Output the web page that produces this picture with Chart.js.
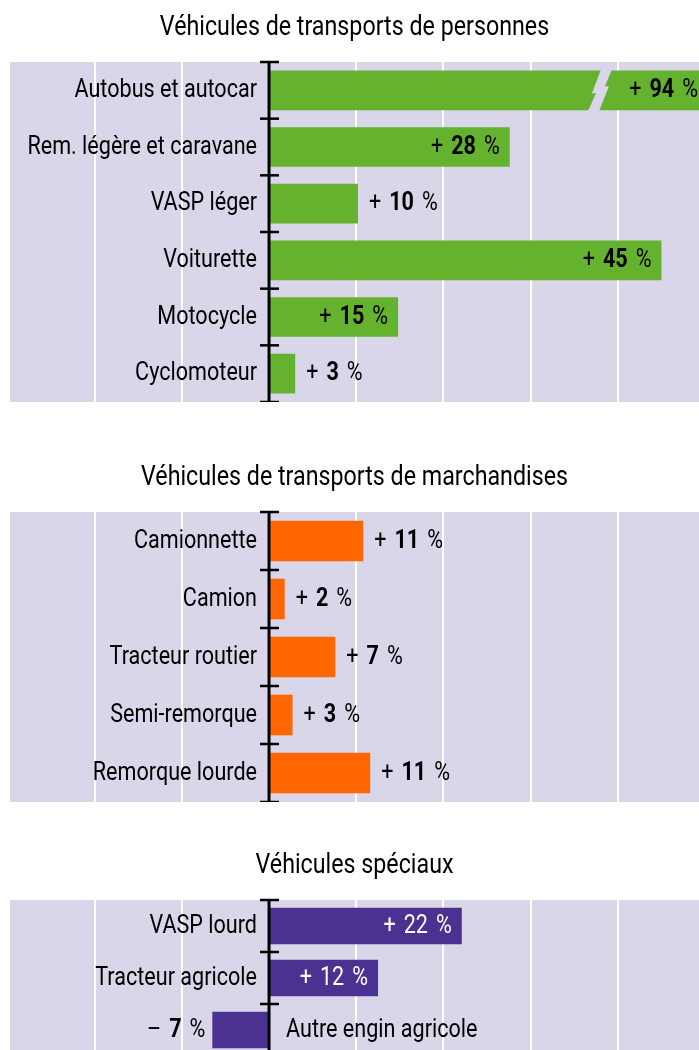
<!DOCTYPE html>
<html>
<head>
<meta charset="utf-8">
<script src="https://cdn.jsdelivr.net/npm/chart.js@4"></script>
<style>
  html, body { margin: 0; padding: 0; background: #fff; overflow: hidden; }
  body { width: 699px; height: 1050px; position: relative; }
  .panel { position: absolute; left: 0; width: 699px; }
</style>
</head>
<body>
<div class="panel" style="top:0;height:402px"><canvas id="c1"></canvas></div>
<div class="panel" style="top:450px;height:352px"><canvas id="c2"></canvas></div>
<div class="panel" style="top:838px;height:218px"><canvas id="c3"></canvas></div>
<script>
const FONT = 'Roboto, "Liberation Sans", sans-serif';
const SQUEEZE = 0.83; // the original uses a condensed face

const personTitle = 'Véhicules de transports de personnes';
const personCats = ['Autobus et autocar', 'Rem. légère et caravane', 'VASP léger', 'Voiturette', 'Motocycle', 'Cyclomoteur'];
const personValues = [94, 27.6, 10.2, 45, 14.8, 3];
const personText = ['94', '28', '10', '45', '15', '3'];

const goodsTitle = 'Véhicules de transports de marchandises';
const goodsCats = ['Camionnette', 'Camion', 'Tracteur routier', 'Semi-remorque', 'Remorque lourde'];
const goodsValues = [10.8, 1.8, 7.6, 2.7, 11.6];
const goodsText = ['11', '2', '7', '3', '11'];

const specialTitle = 'Véhicules spéciaux';
const specialCats = ['VASP lourd', 'Tracteur agricole', 'Autre engin agricole'];
const specialValues = [22.1, 12.5, -6.5];
const specialText = ['22', '12', '7'];

const xMin = -29.7, xMax = 49.3, xStep = 10;
const BG = '#d9d6e9';

function textWidth(ctx, s, font) {
  ctx.font = font;
  return ctx.measureText(s).width * SQUEEZE;
}

// draws squeezed text, x is the left edge
function drawText(ctx, s, x, y, font, color) {
  ctx.save();
  ctx.font = font;
  ctx.fillStyle = color;
  ctx.textAlign = 'left';
  ctx.textBaseline = 'middle';
  ctx.translate(x, y);
  ctx.scale(SQUEEZE, 1);
  ctx.fillText(s, 0, 0);
  ctx.restore();
}

// panel background, title, zero axis with ticks, break mark, labels
const panelPlugin = {
  id: 'panel',
  beforeDraw(chart) {
    const { ctx, chartArea: a } = chart;
    const opts = chart.options.plugins.panel;
    ctx.save();
    ctx.fillStyle = BG;
    ctx.fillRect(a.left, a.top, a.right - a.left, a.bottom - a.top);
    ctx.restore();
    const tf = '28px ' + FONT;
    const tw = textWidth(ctx, opts.title, tf);
    drawText(ctx, opts.title, (a.left + a.right) / 2 - tw / 2, a.top - 34, tf, '#000');
  },
  afterDatasetsDraw(chart) {
    const { ctx, chartArea: a, scales: { x } } = chart;
    const opts = chart.options.plugins.panel;
    const meta = chart.getDatasetMeta(0);
    const x0 = x.getPixelForValue(0);
    ctx.save();

    // broken bar mark
    if (opts.breakAt != null) {
      meta.data.forEach((bar, i) => {
        if (chart.data.datasets[0].data[i] <= xMax) return;
        const bx = x.getPixelForValue(opts.breakAt);
        const t = bar.y - bar.height / 2 - 1, b = bar.y + bar.height / 2 + 1, m = bar.y;
        ctx.fillStyle = BG;
        ctx.beginPath();
        ctx.moveTo(bx + 4, t);
        ctx.lineTo(bx + 15, t);
        ctx.lineTo(bx + 8, m - 4);
        ctx.lineTo(bx + 12, m - 4);
        ctx.lineTo(bx + 2, b);
        ctx.lineTo(bx - 9, b);
        ctx.lineTo(bx - 1, m + 3);
        ctx.lineTo(bx - 5, m + 3);
        ctx.closePath();
        ctx.fill();
      });
    }

    // zero axis
    ctx.strokeStyle = '#000';
    ctx.lineWidth = 3;
    ctx.beginPath();
    ctx.moveTo(x0, a.top);
    ctx.lineTo(x0, a.bottom);
    ctx.stroke();
    const n = chart.data.labels.length;
    const step = (a.bottom - a.top) / n;
    ctx.lineWidth = 2.5;
    for (let k = 0; k <= n; k++) {
      const ty = a.top + k * step;
      ctx.beginPath();
      ctx.moveTo(x0 - 9, ty);
      ctx.lineTo(x0 + 10, ty);
      ctx.stroke();
    }
    ctx.restore();

    // labels
    const normal = '26px ' + FONT;
    const gap = 8;
    meta.data.forEach((bar, i) => {
      const v = chart.data.datasets[0].data[i];
      const cat = chart.data.labels[i];
      const sign = v >= 0 ? '+' : '–';
      const num = opts.text[i];
      const clipped = bar.x > a.right;
      const right = Math.min(bar.x, a.right);
      const inside = Math.abs(v) >= opts.insideMin;
      const col = inside ? opts.insideColor : '#000';
      const bold = (opts.insideBold || !inside ? 'bold ' : '') + '26px ' + FONT;
      const w1 = textWidth(ctx, sign, normal);
      const w2 = textWidth(ctx, num, bold);
      const w3 = textWidth(ctx, '%', normal);
      const tw = w1 + gap + w2 + gap + w3;
      let sx;
      if (v >= 0) {
        const cw = textWidth(ctx, cat, normal);
        drawText(ctx, cat, x0 - 12 - cw, bar.y, normal, '#000');
        sx = inside ? right - (clipped ? 1 : 10) - tw : right + 11;
      } else {
        drawText(ctx, cat, x0 + 17, bar.y, normal, '#000');
        sx = bar.x - 7 - tw;
      }
      drawText(ctx, sign, sx, bar.y, normal, col);
      drawText(ctx, num, sx + w1 + gap, bar.y, bold, col);
      drawText(ctx, '%', sx + w1 + gap + w2 + gap, bar.y, normal, col);
    });
  }
};

function makeChart(id, title, cats, values, text, color, extra) {
  return new Chart(document.getElementById(id), {
    type: 'bar',
    data: {
      labels: cats,
      datasets: [{
        data: values,
        backgroundColor: color,
        borderWidth: 0,
        barPercentage: 0.7,
        categoryPercentage: 1
      }]
    },
    options: {
      indexAxis: 'y',
      responsive: true,
      maintainAspectRatio: false,
      animation: false,
      layout: { padding: { left: 10, right: 0, top: 62, bottom: 0 } },
      plugins: {
        legend: { display: false },
        tooltip: { enabled: false },
        title: { display: false },
        panel: Object.assign({ title: title, text: text, insideMin: 12, insideColor: '#000', insideBold: true, breakAt: null }, extra)
      },
      scales: {
        x: {
          min: xMin,
          max: xMax,
          ticks: { display: false, stepSize: xStep, includeBounds: false },
          grid: { color: '#ffffff', lineWidth: 2, drawTicks: false },
          border: { display: false }
        },
        y: { display: false }
      }
    },
    plugins: [panelPlugin]
  });
}

makeChart('c1', personTitle, personCats, personValues, personText, '#65b22e', { insideMin: 12, breakAt: 37.6 });
makeChart('c2', goodsTitle, goodsCats, goodsValues, goodsText, '#ff6600', { insideMin: 999 });
makeChart('c3', specialTitle, specialCats, specialValues, specialText, '#4b3190', { insideMin: 10, insideColor: '#fff', insideBold: false });
</script>
</body>
</html>
